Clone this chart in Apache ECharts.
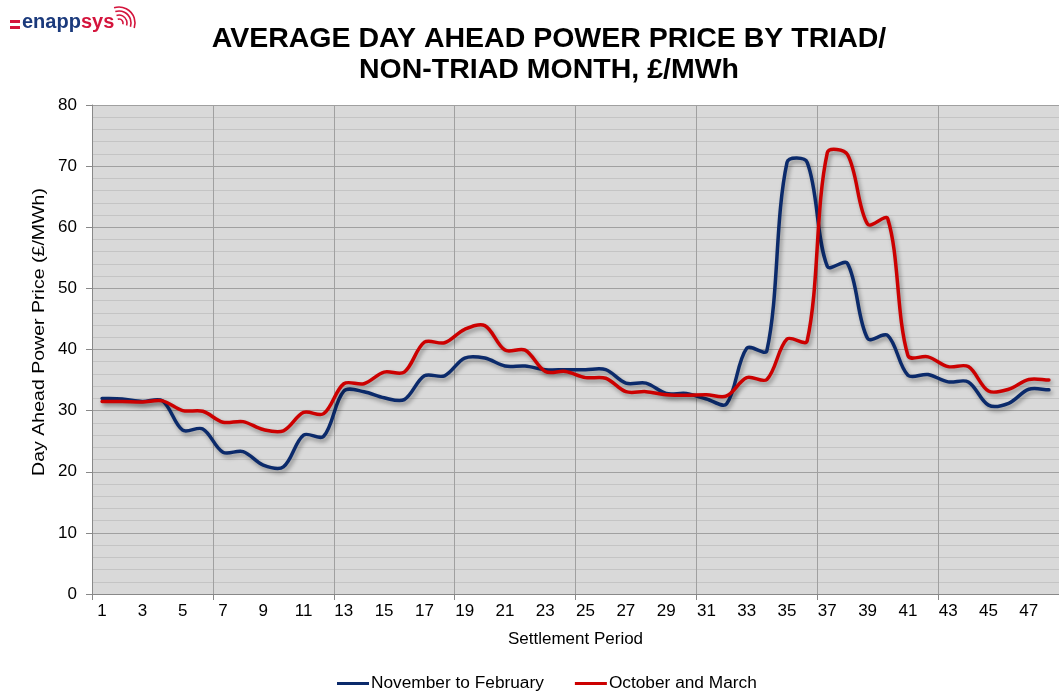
<!DOCTYPE html>
<html>
<head>
<meta charset="utf-8">
<script src="https://cdn.jsdelivr.net/npm/echarts@6/dist/echarts.min.js"></script>
<style>html,body{margin:0;padding:0;background:#fff;}#c{width:1059px;height:691px;}</style>
</head>
<body>
<div id="c"></div>
<script>
const periods = Array.from({length: 48}, (_, i) => String(i + 1));
const novToFeb = [32.0,31.9,31.5,31.6,26.8,27.0,23.2,23.3,21.1,20.8,26.0,25.8,33.2,33.1,32.1,31.8,35.7,35.7,38.6,38.6,37.3,37.3,36.7,36.7,36.7,36.7,34.5,34.5,32.8,32.8,31.9,31.1,40.2,39.8,70.6,70.6,53.6,54.1,41.8,42.3,35.8,35.9,34.7,34.7,30.9,31.2,33.5,33.4];
const octAndMar = [31.5,31.5,31.4,31.6,30.0,29.9,28.1,28.2,26.9,26.7,29.7,29.5,34.4,34.4,36.3,36.3,41.2,41.1,43.3,43.9,39.9,39.9,36.4,36.4,35.4,35.3,33.1,33.1,32.6,32.5,32.6,32.4,35.4,35.1,41.7,41.4,72.2,71.9,60.5,61.4,39.0,38.8,37.2,37.2,33.2,33.5,35.1,35.0];
const seriesNames = ['November to February', 'October and March'];
const titleText = 'AVERAGE DAY AHEAD POWER PRICE BY TRIAD/\nNON-TRIAD MONTH, £/MWh';
const yAxisTitle = 'Day Ahead Power Price (£/MWh)';
const xAxisTitle = 'Settlement Period';

const NAVY = '#0b2a6b', RED = '#cc0000';
const FONT = '"Liberation Sans", Arial, sans-serif';
const chart = echarts.init(document.getElementById('c'), null, {renderer: 'canvas'});

// Smoothed line (spreadsheet-style Bezier smoothing), every point positioned via the axis scales.
function smoothLine(values, color) {
  return function (params, api) {
    if (params.dataIndex !== 0) return null;
    const pts = values.map((v, i) => api.coord([i, v]));
    const n = pts.length;
    const dist = (a, b) => Math.hypot(b[0] - a[0], b[1] - a[1]);
    const cpIn = [], cpOut = [];
    for (let i = 0; i < n; i++) {
      const p0 = pts[Math.max(i - 1, 0)], p1 = pts[i], p2 = pts[Math.min(i + 1, n - 1)];
      const tx = p2[0] - p0[0], ty = p2[1] - p0[1];
      const dPrev = dist(p0, p1), dNext = dist(p1, p2);
      const sum = dPrev + dNext || 1;
      const kOut = (1 / 6) * 2 * dNext / sum, kIn = (1 / 6) * 2 * dPrev / sum;
      cpOut[i] = [p1[0] + tx * kOut, p1[1] + ty * kOut];
      cpIn[i] = [p1[0] - tx * kIn, p1[1] - ty * kIn];
    }
    let d = 'M' + pts[0][0] + ',' + pts[0][1];
    for (let i = 0; i < n - 1; i++) {
      d += ' C' + cpOut[i][0] + ',' + cpOut[i][1] + ' ' + cpIn[i + 1][0] + ',' + cpIn[i + 1][1] + ' ' + pts[i + 1][0] + ',' + pts[i + 1][1];
    }
    return {
      type: 'path', shape: {pathData: d},
      style: {fill: null, stroke: color, lineWidth: 3.5, lineJoin: 'round', lineCap: 'round',
              shadowColor: 'rgba(0,0,0,0.35)', shadowBlur: 4, shadowOffsetX: 2, shadowOffsetY: 3}
    };
  };
}

chart.setOption({
  animation: false,
  backgroundColor: '#ffffff',
  color: [NAVY, RED],
  title: {
    text: titleText, left: 544, top: 19, textAlign: 'center',
    textStyle: {fontFamily: FONT, fontSize: 28.5, fontWeight: 'bold', color: '#000', lineHeight: 31}
  },
  graphic: [
    {type: 'rect', shape: {x: 10, y: 20, width: 10, height: 3}, style: {fill: '#d4143c'}},
    {type: 'rect', shape: {x: 10, y: 26, width: 10, height: 3}, style: {fill: '#d4143c'}},
    {type: 'text', left: 22, top: 12, style: {
      text: '{a|enapp}{b|sys}', fontFamily: FONT, fontSize: 20, fontWeight: 'bold',
      rich: {a: {fill: '#1b3a7c', fontSize: 20, fontWeight: 'bold', fontFamily: FONT}, b: {fill: '#d4143c', fontSize: 20, fontWeight: 'bold', fontFamily: FONT}}
    }},
    {type: 'arc', shape: {cx: 119, cy: 23, r: 4, startAngle: -Math.PI * 0.6, endAngle: Math.PI * 0.1}, style: {stroke: '#d4143c', lineWidth: 1.6, fill: null}},
    {type: 'arc', shape: {cx: 119, cy: 23, r: 8, startAngle: -Math.PI * 0.6, endAngle: Math.PI * 0.1}, style: {stroke: '#d4143c', lineWidth: 1.6, fill: null}},
    {type: 'arc', shape: {cx: 119, cy: 23, r: 12, startAngle: -Math.PI * 0.6, endAngle: Math.PI * 0.1}, style: {stroke: '#d4143c', lineWidth: 1.6, fill: null}},
    {type: 'arc', shape: {cx: 119, cy: 23, r: 16, startAngle: -Math.PI * 0.6, endAngle: Math.PI * 0.1}, style: {stroke: '#d4143c', lineWidth: 1.6, fill: null}},
    {type: 'text', x: 39, y: 332, rotation: Math.PI / 2, scaleX: 1.15, style: {
      text: yAxisTitle, fontFamily: FONT, fontSize: 17, fill: '#000', align: 'center', verticalAlign: 'middle'
    }}
  ],
  legend: {
    top: 670, left: 332, itemGap: 31, itemWidth: 32, itemHeight: 3,
    icon: 'rect',
    textStyle: {fontFamily: FONT, fontSize: 17.3, color: '#000', padding: [0, 0, 0, -3]},
    data: seriesNames
  },
  grid: {left: 92, top: 105, right: 0, bottom: 97, show: true, backgroundColor: '#d9d9d9', borderWidth: 0},
  xAxis: {
    type: 'category', data: periods, boundaryGap: true,
    name: xAxisTitle, nameLocation: 'middle', nameGap: 37,
    nameTextStyle: {fontFamily: FONT, fontSize: 17, color: '#000'},
    axisLine: {show: true, lineStyle: {color: '#888', width: 1}},
    axisTick: {show: true, interval: 5, length: 6, lineStyle: {color: '#888'}},
    axisLabel: {interval: 1, fontFamily: FONT, fontSize: 17, color: '#000', margin: 9},
    splitLine: {show: true, interval: 5, lineStyle: {color: '#a0a0a0', width: 1}}
  },
  yAxis: {
    type: 'value', min: 0, max: 80, interval: 10,
    axisLine: {show: true, lineStyle: {color: '#888', width: 1}},
    axisTick: {show: true, length: 6, lineStyle: {color: '#888'}},
    axisLabel: {fontFamily: FONT, fontSize: 17, color: '#000', margin: 15},
    splitLine: {show: true, lineStyle: {color: '#a0a0a0', width: 1}},
    minorTick: {show: false, splitNumber: 5},
    minorSplitLine: {show: true, lineStyle: {color: '#c4c4c4', width: 1}}
  },
  series: [
    {name: seriesNames[0], type: 'custom', data: novToFeb.map((v, i) => [i, v]), encode: {x: 0, y: 1},
     itemStyle: {color: NAVY}, renderItem: smoothLine(novToFeb, NAVY), z: 3},
    {name: seriesNames[1], type: 'custom', data: octAndMar.map((v, i) => [i, v]), encode: {x: 0, y: 1},
     itemStyle: {color: RED}, renderItem: smoothLine(octAndMar, RED), z: 4}
  ]
});
</script>
</body>
</html>
